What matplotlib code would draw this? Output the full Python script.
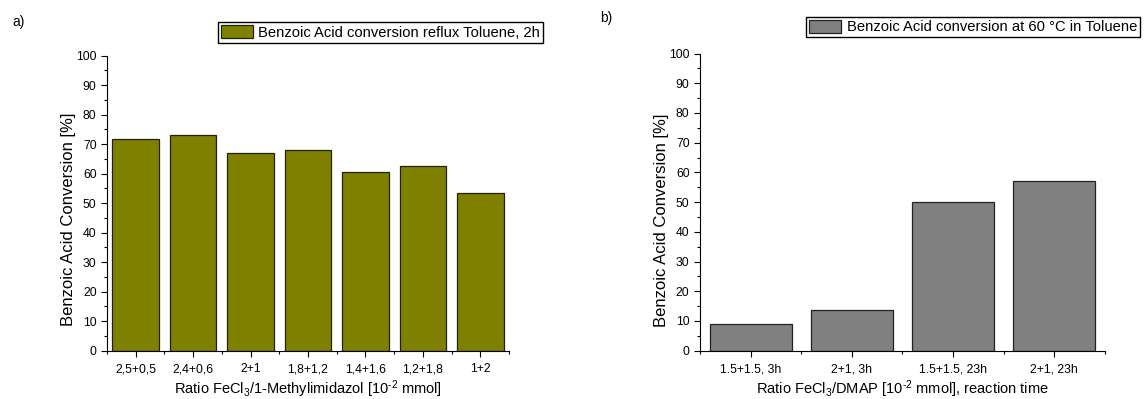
import numpy as np
import matplotlib
matplotlib.use('Agg')
import matplotlib.pyplot as plt
from matplotlib.ticker import MultipleLocator, FixedLocator

plt.rcParams['font.family'] = ['Liberation Sans', 'DejaVu Sans']
plt.rcParams['mathtext.fontset'] = 'custom'
plt.rcParams['mathtext.rm'] = 'Liberation Sans'
plt.rcParams['mathtext.it'] = 'Liberation Sans:italic'

# panel a data
ratios_a = ['2,5+0,5', '2,4+0,6', '2+1', '1,8+1,2', '1,4+1,6', '1,2+1,8', '1+2']
conv_a = [71.7, 73.0, 67.1, 68.1, 60.6, 62.6, 53.5]

# panel b data
ratios_b = ['1.5+1.5, 3h', '2+1, 3h', '1.5+1.5, 23h', '2+1, 23h']
conv_b = [9.1, 13.8, 50.1, 57.1]


def style_axis(ax, n, ylab_y):
    ax.set_xlim(-0.5, n - 0.5)
    ax.set_ylim(0, 100)
    ax.spines['top'].set_visible(False)
    ax.spines['right'].set_visible(False)
    ax.yaxis.set_major_locator(MultipleLocator(10))
    ax.yaxis.set_minor_locator(MultipleLocator(5))
    ax.xaxis.set_minor_locator(FixedLocator(np.arange(n + 1) - 0.5))
    ax.tick_params(axis='both', which='major', direction='out', length=4, width=0.8, labelsize=8.8)
    ax.tick_params(axis='both', which='minor', direction='out', length=2, width=0.8)
    ax.tick_params(axis='x', which='major', pad=5)
    ax.set_ylabel('Benzoic Acid Conversion [%]', fontsize=12)
    ax.yaxis.set_label_coords(-0.077, ylab_y)


def add_legend(ax, x0, y0):
    ax.legend(loc='upper left', bbox_to_anchor=(x0, y0), fontsize=10.6, frameon=True,
              fancybox=False, edgecolor='black', framealpha=1, borderpad=0.2,
              handlelength=2.2, handleheight=1.0, handletextpad=0.35, borderaxespad=0)


fig = plt.figure(figsize=(11.46, 3.99), dpi=100)

ax1 = fig.add_axes([0.0934, 0.1211, 0.3508, 0.7393])
x = np.arange(len(ratios_a))
ax1.bar(x, conv_a, width=0.81, color='#808000', edgecolor='#222200', linewidth=0.9,
        label='Benzoic Acid conversion reflux Toluene, 2h')
ax1.set_xticks(x)
ax1.set_xticklabels(ratios_a)
style_axis(ax1, len(ratios_a), 0.446)
ax1.set_xlabel(r'Ratio FeCl$_{3}$/1-Methylimidazol [10$^{\text{-2}}$ mmol]', fontsize=10.5, labelpad=2)
add_legend(ax1, 0.276, 1.114)
fig.text(0.0105, 0.935, 'a)', fontsize=10)

ax2 = fig.add_axes([0.6108, 0.1211, 0.3534, 0.7448])
x2 = np.arange(len(ratios_b))
ax2.bar(x2, conv_b, width=0.81, color='#808080', edgecolor='#222222', linewidth=0.9,
        label='Benzoic Acid conversion at 60 \u00b0C in Toluene')
ax2.set_xticks(x2)
ax2.set_xticklabels(ratios_b)
style_axis(ax2, len(ratios_b), 0.44)
ax2.set_xlabel(r'Ratio FeCl$_{3}$/DMAP [10$^{\text{-2}}$ mmol], reaction time', fontsize=10.5, labelpad=2)
add_legend(ax2, 0.262, 1.124)
fig.text(0.5235, 0.945, 'b)', fontsize=10)

fig.savefig('out.png', dpi=100)
